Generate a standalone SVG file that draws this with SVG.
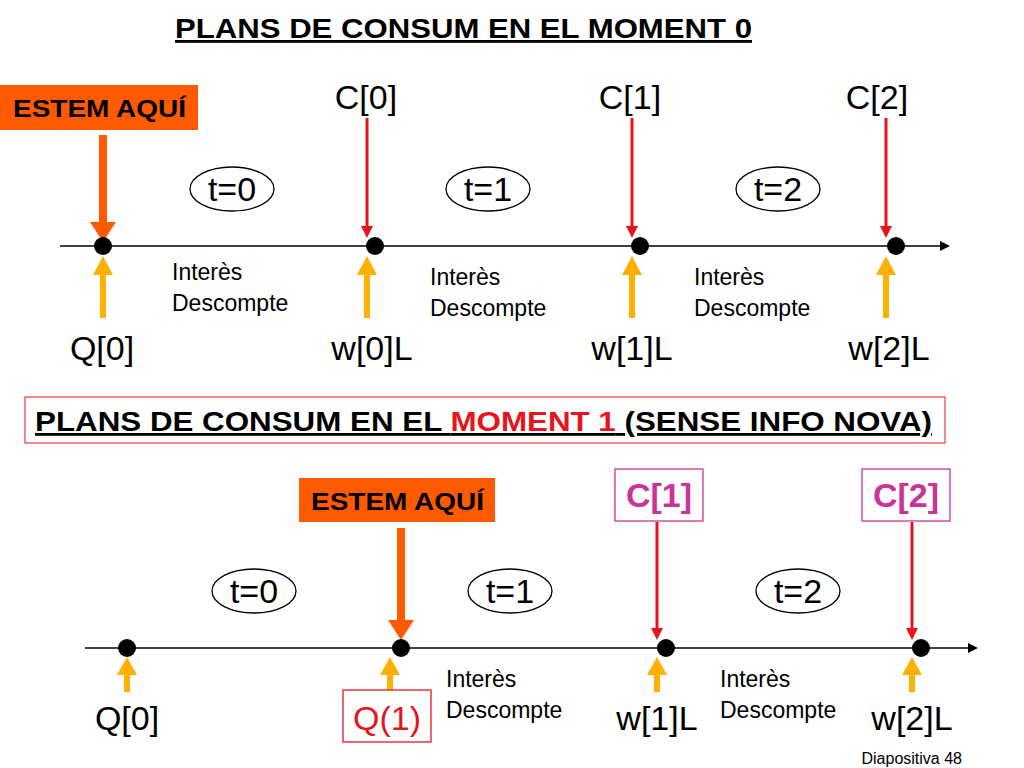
<svg xmlns="http://www.w3.org/2000/svg" width="1024" height="768" viewBox="0 0 1024 768">
<style>
text{font-family:"Liberation Sans",Arial,sans-serif;fill:#000}
.b{font-weight:bold}
.big{font-size:34px}
.sm{font-size:23px}
.red{stroke:#E8141B;stroke-width:3}
.org{stroke:#FF5A00;stroke-width:8}
.yel{stroke:#FFB000;stroke-width:6}
.ell{fill:#fff;stroke:#000;stroke-width:1.3}
</style>
<rect width="1024" height="768" fill="#fff"/>
<text x="175" y="38" class="b" font-size="28" textLength="577" lengthAdjust="spacingAndGlyphs" text-decoration="underline">PLANS DE CONSUM EN EL MOMENT 0</text>
<g id="connectors">
<line x1="60" y1="246" x2="940" y2="246" stroke="#000" stroke-width="1.5"/>
<path d="M940,241 L950,246 L940,251 Z"/>
<line x1="85" y1="648" x2="968" y2="648" stroke="#000" stroke-width="1.5"/>
<path d="M968,643 L978,648 L968,653 Z"/>
<line class="org" x1="103" y1="135" x2="103" y2="222"/><path d="M90,222 L116,222 L103,242 Z" fill="#FF5A00"/>
<line class="org" x1="401" y1="528" x2="401" y2="620"/><path d="M388,620 L414,620 L401,640 Z" fill="#FF5A00"/>
<g class="red">
<line x1="367" y1="118" x2="367" y2="226"/><path d="M361,226 L373,226 L367,238 Z" fill="#E8141B" stroke="none"/>
<line x1="632" y1="118" x2="632" y2="226"/><path d="M626,226 L638,226 L632,238 Z" fill="#E8141B" stroke="none"/>
<line x1="886" y1="118" x2="886" y2="226"/><path d="M880,226 L892,226 L886,238 Z" fill="#E8141B" stroke="none"/>
<line x1="657" y1="522" x2="657" y2="628"/><path d="M651,628 L663,628 L657,640 Z" fill="#E8141B" stroke="none"/>
<line x1="912" y1="522" x2="912" y2="628"/><path d="M906,628 L918,628 L912,640 Z" fill="#E8141B" stroke="none"/>
</g>
<g fill="#FFB000">
<line class="yel" x1="103" y1="318" x2="103" y2="272"/><path d="M93,275 L113,275 L103,256 Z"/>
<line class="yel" x1="367" y1="318" x2="367" y2="272"/><path d="M357,275 L377,275 L367,256 Z"/>
<line class="yel" x1="632" y1="318" x2="632" y2="272"/><path d="M622,275 L642,275 L632,256 Z"/>
<line class="yel" x1="886" y1="318" x2="886" y2="272"/><path d="M876,275 L896,275 L886,256 Z"/>
<line class="yel" x1="127" y1="692" x2="127" y2="672"/><path d="M117,675 L137,675 L127,657 Z"/>
<line class="yel" x1="390" y1="692" x2="390" y2="672"/><path d="M380,675 L400,675 L390,657 Z"/>
<line class="yel" x1="657" y1="692" x2="657" y2="672"/><path d="M647,675 L667,675 L657,657 Z"/>
<line class="yel" x1="912" y1="692" x2="912" y2="672"/><path d="M902,675 L922,675 L912,657 Z"/>
</g>
</g>
<g id="dots">
<circle cx="103" cy="246" r="9"/><circle cx="375" cy="246" r="9"/><circle cx="640" cy="246" r="9"/><circle cx="896" cy="246" r="9"/>
<circle cx="127" cy="648" r="9"/><circle cx="401" cy="648" r="9"/><circle cx="666" cy="648" r="9"/><circle cx="921" cy="648" r="9"/>
</g>
<g id="estem0"><rect x="0" y="85" width="198" height="45" fill="#FF5A00"/><text x="13" y="117" class="b" font-size="23" textLength="173" lengthAdjust="spacingAndGlyphs">ESTEM AQUÍ</text></g>
<g id="estem1"><rect x="299" y="478" width="196" height="44" fill="#FF5A00"/><text x="311" y="510" class="b" font-size="23" textLength="173" lengthAdjust="spacingAndGlyphs">ESTEM AQUÍ</text></g>
<g id="top-labels" text-anchor="middle">
<text x="366" y="109" class="big">C[0]</text><text x="630" y="109" class="big">C[1]</text><text x="877" y="109" class="big">C[2]</text>
<text x="102" y="360" class="big">Q[0]</text><text x="372" y="360" class="big">w[0]L</text><text x="632" y="360" class="big">w[1]L</text><text x="889" y="360" class="big">w[2]L</text>
</g>
<g id="ellipses" text-anchor="middle">
<ellipse class="ell" cx="232" cy="189" rx="42" ry="22"/><text x="232" y="201" class="big">t=0</text>
<ellipse class="ell" cx="488" cy="189" rx="42" ry="22"/><text x="488" y="201" class="big">t=1</text>
<ellipse class="ell" cx="778" cy="189" rx="42" ry="22"/><text x="778" y="201" class="big">t=2</text>
<ellipse class="ell" cx="254" cy="591" rx="42" ry="22"/><text x="254" y="603" class="big">t=0</text>
<ellipse class="ell" cx="510" cy="591" rx="42" ry="22"/><text x="510" y="603" class="big">t=1</text>
<ellipse class="ell" cx="798" cy="591" rx="42" ry="22"/><text x="798" y="603" class="big">t=2</text>
</g>
<g id="interes">
<text x="172" y="280" class="sm">Interès</text><text x="172" y="311" class="sm">Descompte</text>
<text x="430" y="285" class="sm">Interès</text><text x="430" y="316" class="sm">Descompte</text>
<text x="694" y="285" class="sm">Interès</text><text x="694" y="316" class="sm">Descompte</text>
<text x="446" y="687" class="sm">Interès</text><text x="446" y="718" class="sm">Descompte</text>
<text x="720" y="687" class="sm">Interès</text><text x="720" y="718" class="sm">Descompte</text>
</g>
<g id="title2">
<rect x="25" y="397" width="920" height="46" fill="none" stroke="#E8141B" stroke-width="1"/>
<text x="35" y="431" class="b" font-size="28" textLength="897" lengthAdjust="spacingAndGlyphs" text-decoration="underline">PLANS DE CONSUM EN EL <tspan style="fill:#E8141B">MOMENT 1</tspan> (SENSE INFO NOVA)</text>
</g>
<g id="c1b"><rect x="615" y="469" width="88" height="52" fill="#fff" stroke="#CC3399" stroke-width="1.3"/><text x="659" y="507" text-anchor="middle" class="b big" style="fill:#CC3399">C[1]</text></g>
<g id="c2b"><rect x="862" y="469" width="88" height="52" fill="#fff" stroke="#CC3399" stroke-width="1.3"/><text x="906" y="507" text-anchor="middle" class="b big" style="fill:#CC3399">C[2]</text></g>
<g id="bottom-labels" text-anchor="middle">
<text x="127" y="730" class="big">Q[0]</text>
<rect x="343" y="690" width="88" height="52" fill="#fff" stroke="#E8141B" stroke-width="1.3"/><text x="387" y="730" class="big" style="fill:#E8141B">Q(1)</text>
<text x="657" y="730" class="big">w[1]L</text><text x="912" y="730" class="big">w[2]L</text>
</g>
<text x="962" y="764" text-anchor="end" font-size="16">Diapositiva 48</text>
</svg>
